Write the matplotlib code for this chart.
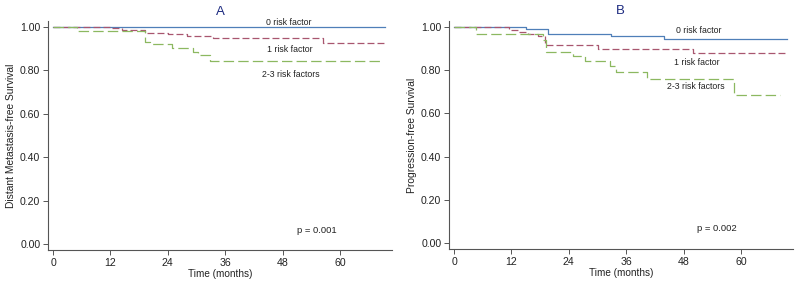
import numpy as np
import matplotlib
matplotlib.use("Agg")
import matplotlib.pyplot as plt

plt.rcParams['font.family'] = ['Liberation Sans', 'DejaVu Sans']
plt.rcParams['lines.scale_dashes'] = False

# Panel A - distant metastasis-free survival (time in months, step values)
a0_t = [0, 69.4]
a0_s = [1.00, 1.00]
a1_t = [0, 11.9, 14.4, 19.2, 24.0, 28.0, 33.4, 56.4, 69.4]
a1_s = [1.00, 0.995, 0.986, 0.972, 0.966, 0.960, 0.948, 0.926, 0.926]
a2_t = [0, 5.0, 19.2, 20.2, 24.8, 29.3, 30.3, 32.8, 68.3]
a2_s = [1.00, 0.980, 0.930, 0.920, 0.902, 0.883, 0.873, 0.843, 0.843]

# Panel B - progression-free survival
b0_t = [0, 15.1, 19.7, 32.8, 43.9, 69.6]
b0_s = [1.00, 0.991, 0.967, 0.958, 0.946, 0.946]
b1_t = [0, 11.5, 13.5, 15.5, 17.5, 19.0, 30.2, 50.0, 69.7]
b1_s = [1.00, 0.985, 0.977, 0.968, 0.958, 0.915, 0.897, 0.880, 0.880]
b2_t = [0, 4.6, 18.6, 19.3, 24.9, 27.4, 32.6, 33.9, 40.4, 58.6, 68.2]
b2_s = [1.00, 0.966, 0.940, 0.885, 0.865, 0.843, 0.819, 0.792, 0.761, 0.686, 0.686]

x_ticks = [0, 12, 24, 36, 48, 60]
y_ticks = [0.0, 0.2, 0.4, 0.6, 0.8, 1.0]

c_blue = '#4f7fb8'
c_red = '#a8566f'
c_green = '#8cb860'
c_axis = '#555555'

W, H = 795, 282
fig = plt.figure(figsize=(W / 100, H / 100), dpi=100)


def make_axes(left, right, top, bottom):
    return fig.add_axes([left / W, 1 - bottom / H, (right - left) / W, (bottom - top) / H])


def style(ax, ylabel):
    ax.set_xlim(-1.05, 70.9)
    ax.set_ylim(-0.028, 1.028)
    ax.set_xticks(x_ticks)
    ax.set_yticks(y_ticks)
    ax.set_yticklabels(["%.2f" % v for v in y_ticks])
    for s in ['top', 'right']:
        ax.spines[s].set_visible(False)
    for s in ['left', 'bottom']:
        ax.spines[s].set_color(c_axis)
        ax.spines[s].set_linewidth(0.8)
    ax.tick_params(length=3.5, width=0.7, color=c_axis, labelsize=7.6, pad=2,
                   labelcolor='#222222')
    ax.set_xlabel("Time (months)", fontsize=7.2, labelpad=1, color='#222222')
    ax.set_ylabel(ylabel, fontsize=7.4, labelpad=3, color='#222222')


def curves(ax, t0, s0, t1, s1, t2, s2):
    ax.step(t0, s0, where='post', color=c_blue, lw=0.9)
    ax.step(t1, s1, where='post', color=c_red, lw=0.9, dashes=(5, 2.2))
    ax.step(t2, s2, where='post', color=c_green, lw=0.9, dashes=(7.5, 3))


axA = make_axes(48, 392, 21, 250)
curves(axA, a0_t, a0_s, a1_t, a1_s, a2_t, a2_s)
style(axA, "Distant Metastasis-free Survival")
axA.text(49.4, 1.022, "0 risk factor", fontsize=6.3, ha='center', va='center', color='#222222')
axA.text(49.6, 0.897, "1 risk factor", fontsize=6.3, ha='center', va='center', color='#222222')
axA.text(49.8, 0.782, "2-3 risk factors", fontsize=6.3, ha='center', va='center', color='#222222')
axA.text(55.2, 0.060, "p = 0.001", fontsize=6.8, ha='center', va='center', color='#222222')

axB = make_axes(449, 793, 21, 249)
curves(axB, b0_t, b0_s, b1_t, b1_s, b2_t, b2_s)
style(axB, "Progression-free Survival")
axB.text(51.1, 0.986, "0 risk factor", fontsize=6.3, ha='center', va='center', color='#222222')
axB.text(50.7, 0.835, "1 risk factor", fontsize=6.3, ha='center', va='center', color='#222222')
axB.text(50.5, 0.724, "2-3 risk factors", fontsize=6.3, ha='center', va='center', color='#222222')
axB.text(55.0, 0.065, "p = 0.002", fontsize=6.8, ha='center', va='center', color='#222222')

fig.text(220 / W, 1 - 12 / H, "A", fontsize=9.5, color='#1c2a80', ha='center', va='center')
fig.text(620 / W, 1 - 11 / H, "B", fontsize=9.5, color='#1c2a80', ha='center', va='center')

fig.savefig("out.png", dpi=100)
